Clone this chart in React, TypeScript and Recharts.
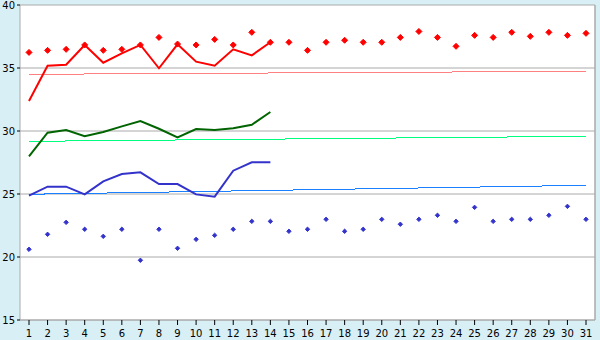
import React from 'react';
import { ComposedChart, Line, XAxis, YAxis, CartesianGrid, ReferenceLine } from 'recharts';

const days = Array.from({ length: 31 }, (_, i) => i + 1);

const redLine = [32.38, 35.18, 35.26, 36.83, 35.42, 36.16, 36.83, 34.98, 36.88, 35.5, 35.18, 36.48, 36.0, 37.04];
const greenLine = [27.99, 29.87, 30.08, 29.58, 29.92, 30.37, 30.79, 30.18, 29.5, 30.16, 30.08, 30.21, 30.5, 31.51];
const blueLine = [24.87, 25.58, 25.58, 24.97, 26.0, 26.59, 26.72, 25.79, 25.79, 24.97, 24.79, 26.85, 27.52, 27.52];

const redPoints = [
  36.24, 36.4, 36.48, 36.83, 36.4, 36.48, 36.83, 37.43, 36.9, 36.83,
  37.27, 36.83, 37.83, 37.04, 37.04, 36.4, 37.04, 37.2, 37.04, 37.04,
  37.43, 37.9, 37.43, 36.72, 37.59, 37.43, 37.83, 37.51, 37.83, 37.59, 37.75,
];
const bluePoints = [
  20.61, 21.8, 22.75, 22.2, 21.64, 22.2, 19.74, 22.2, 20.69, 21.4,
  21.72, 22.2, 22.83, 22.83, 22.04, 22.2, 22.99, 22.04, 22.2, 22.99,
  22.6, 22.99, 23.31, 22.83, 23.94, 22.83, 22.99, 22.99, 23.31, 24.02, 22.99,
];

const redTrend = [34.5, 34.74];
const greenTrend = [29.18, 29.58];
const blueTrend = [24.98, 25.69];

const yTicks = [15, 20, 25, 30, 35, 40];

const data = days.map((d, i) => ({
  day: d,
  red: i < redLine.length ? redLine[i] : null,
  green: i < greenLine.length ? greenLine[i] : null,
  blue: i < blueLine.length ? blueLine[i] : null,
  redPt: redPoints[i],
  bluePt: bluePoints[i],
}));

const makeDiamond = (r: number, color: string) => (props: any) => {
  const { cx, cy, index } = props;
  if (cx == null || cy == null) return <g key={`d-${index}`} />;
  return (
    <path
      key={`d-${color}-${index}`}
      d={`M${cx},${cy - r} L${cx + r},${cy} L${cx},${cy + r} L${cx - r},${cy} Z`}
      fill={color}
      stroke={color}
      strokeWidth={1}
    />
  );
};

const tickStyle = { fontFamily: 'DejaVu Sans, Verdana, sans-serif', fontSize: 10, fill: '#000' };
const gray = '#aaaaaa';

export default function App() {
  return (
    <div style={{ position: 'absolute', left: 0, top: 0, width: 600, height: 340, background: '#d9eff6' }}>
      <ComposedChart width={600} height={340} data={data} margin={{ top: 5, right: 0, bottom: 0, left: 0 }}>
        <CartesianGrid vertical={false} stroke={gray} fill="#ffffff" fillOpacity={1} />
        <XAxis
          dataKey="day"
          type="category"
          interval={0}
          height={20}
          tickSize={5}
          tickMargin={5}
          padding={{ left: 9, right: 9 }}
          axisLine={{ stroke: gray }}
          tickLine={{ stroke: '#000' }}
          tick={tickStyle}
        />
        <YAxis
          domain={[15, 40]}
          ticks={yTicks}
          width={20}
          tickSize={3}
          tickMargin={2}
          axisLine={{ stroke: gray }}
          tickLine={{ stroke: '#000' }}
          tick={tickStyle}
        />
        <YAxis yAxisId="r" orientation="right" width={5} tick={false} tickLine={false} axisLine={{ stroke: gray, strokeWidth: 1.5 }} domain={[15, 40]} />
        <ReferenceLine segment={[{ x: 1, y: redTrend[0] }, { x: 31, y: redTrend[1] }]} stroke="#ff8080" strokeWidth={1} shapeRendering="crispEdges" />
        <ReferenceLine segment={[{ x: 1, y: greenTrend[0] }, { x: 31, y: greenTrend[1] }]} stroke="#00ff80" strokeWidth={1} shapeRendering="crispEdges" />
        <ReferenceLine segment={[{ x: 1, y: blueTrend[0] }, { x: 31, y: blueTrend[1] }]} stroke="#1a80ff" strokeWidth={1} shapeRendering="crispEdges" />
        <Line dataKey="red" stroke="#ff0000" strokeWidth={2} dot={false} isAnimationActive={false} />
        <Line dataKey="green" stroke="#006400" strokeWidth={2} dot={false} isAnimationActive={false} />
        <Line dataKey="blue" stroke="#3333cc" strokeWidth={2} dot={false} isAnimationActive={false} />
        <Line dataKey="redPt" stroke="none" dot={makeDiamond(3, '#ff0000')} activeDot={false} isAnimationActive={false} />
        <Line dataKey="bluePt" stroke="none" dot={makeDiamond(2.2, '#3333cc')} activeDot={false} isAnimationActive={false} />
      </ComposedChart>
    </div>
  );
}
